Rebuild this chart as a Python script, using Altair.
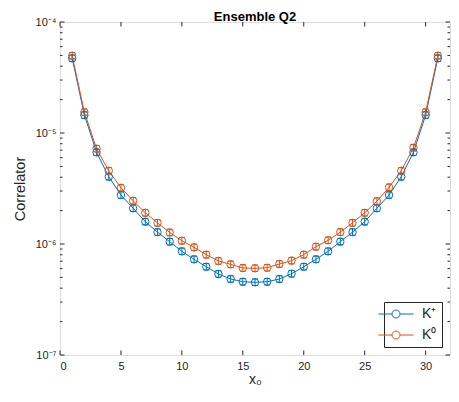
import altair as alt
import pandas as pd

# ---- data ----
x0 = list(range(1, 32))
k_plus = [4.71e-5, 1.45e-5, 6.70e-6, 4.04e-6, 2.76e-6, 2.10e-6, 1.59e-6, 1.28e-6,
          1.05e-6, 8.59e-7, 7.28e-7, 6.24e-7, 5.37e-7, 4.84e-7, 4.57e-7, 4.52e-7,
          4.57e-7, 4.84e-7, 5.40e-7, 6.24e-7, 7.28e-7, 8.59e-7, 1.05e-6, 1.28e-6,
          1.59e-6, 2.10e-6, 2.76e-6, 4.04e-6, 6.70e-6, 1.45e-5, 4.71e-5]
k_zero = [4.97e-5, 1.54e-5, 7.22e-6, 4.57e-6, 3.21e-6, 2.45e-6, 1.91e-6, 1.55e-6,
          1.27e-6, 1.07e-6, 9.33e-7, 8.01e-7, 7.03e-7, 6.56e-7, 6.08e-7, 6.04e-7,
          6.11e-7, 6.61e-7, 7.08e-7, 8.01e-7, 9.46e-7, 1.08e-6, 1.28e-6, 1.55e-6,
          1.91e-6, 2.43e-6, 3.24e-6, 4.57e-6, 7.37e-6, 1.54e-5, 4.97e-5]
series_names = ["K\u207a", "K\u2070"]
series_colors = ["#0072BD", "#D95319"]
rel_err = 0.07

x_ticks = [0, 5, 10, 15, 20, 25, 30]
y_major = [1e-7, 1e-6, 1e-5, 1e-4]
y_labels = ["10\u207b\u2077", "10\u207b\u2076", "10\u207b\u2075", "10\u207b\u2074"]
y_minor = [m * 10.0 ** e for e in (-7, -6, -5) for m in range(2, 10)]

rows = []
for name, vals in zip(series_names, [k_plus, k_zero]):
    for x, v in zip(x0, vals):
        rows.append(dict(x=x, v=v, lo=v / (1 + rel_err), hi=v * (1 + rel_err), series=name))
df = pd.DataFrame(rows)

W, H = 390, 333
FONT = "Liberation Sans"
AX = "#262626"

xs = alt.Scale(domain=[0, 32], nice=False, zero=False)
ys = alt.Scale(type="log", domain=[1e-7, 1e-4], nice=False)

label_expr = " : ".join(
    f"datum.value < {v * 1.5:.3g} ? '{l}'" for v, l in zip(y_major, y_labels)) + " : ''"

x_axis = alt.Axis(values=x_ticks, title="x\u2080", tickSize=0, domain=False, grid=False,
                  labelFont=FONT, labelFontSize=11, labelColor=AX, labelPadding=5,
                  titleFont=FONT, titleFontSize=14, titleFontWeight="normal", titleColor=AX,
                  titleBaseline="top", titleY=17.5, format="d")
y_axis = alt.Axis(values=y_major, labelExpr=label_expr, tickSize=0, domain=False, grid=False,
                  labelFont=FONT, labelFontSize=11, labelColor=AX, labelPadding=4,
                  title="Correlator", titleFont=FONT, titleFontSize=14.5,
                  titleFontWeight="normal", titleColor=AX, titleX=-40,
                  titleBaseline="middle")

X = alt.X("x:Q", scale=xs, axis=x_axis)
Y = alt.Y("v:Q", scale=ys, axis=y_axis)

legend_symbol = "M-4.4,0L-1,0M1,0L4.4,0M1,0A1,1,0,1,1,-1,0A1,1,0,1,1,1,0"
color = alt.Color("series:N",
                  scale=alt.Scale(domain=series_names, range=series_colors),
                  legend=alt.Legend(title=None, orient="bottom-right", offset=8,
                                    symbolType=legend_symbol, symbolSize=64,
                                    symbolStrokeWidth=1, symbolFillColor="transparent",
                                    labelFont=FONT, labelFontSize=14, labelColor=AX,
                                    labelOffset=19, rowPadding=7, padding=5,
                                    strokeColor=AX, fillColor="white"))

base = alt.Chart(df)
lines = base.mark_line(strokeWidth=1).encode(x=X, y=Y, color=color)
errs = base.mark_rule(strokeWidth=1).encode(
    x=X, y=alt.Y("lo:Q", scale=ys, axis=y_axis), y2="hi:Q", color=color)
cap_lo = base.mark_point(shape="M-1,0L1,0", size=36, strokeWidth=1, opacity=1).encode(
    x=X, y=alt.Y("lo:Q", scale=ys, axis=y_axis), color=color)
cap_hi = base.mark_point(shape="M-1,0L1,0", size=36, strokeWidth=1, opacity=1).encode(
    x=X, y=alt.Y("hi:Q", scale=ys, axis=y_axis), color=color)
pts = base.mark_point(size=55, strokeWidth=1, filled=False, opacity=1).encode(
    x=X, y=Y, color=color)

# inward tick marks (MATLAB style)
xt = pd.DataFrame({"x": x_ticks})
ytm = pd.DataFrame({"v": y_major})
ytn = pd.DataFrame({"v": y_minor})
tick_layers = [
    alt.Chart(xt).mark_rule(color=AX, strokeWidth=1).encode(x=X, y=alt.value(H), y2=alt.value(H - 4.5)),
    alt.Chart(xt).mark_rule(color=AX, strokeWidth=1).encode(x=X, y=alt.value(0), y2=alt.value(4.5)),
    alt.Chart(ytm).mark_rule(color=AX, strokeWidth=1).encode(y=Y, x=alt.value(0), x2=alt.value(4.5)),
    alt.Chart(ytm).mark_rule(color=AX, strokeWidth=1).encode(y=Y, x=alt.value(W), x2=alt.value(W - 4.5)),
    alt.Chart(ytn).mark_rule(color=AX, strokeWidth=1).encode(y=Y, x=alt.value(0), x2=alt.value(2.5)),
    alt.Chart(ytn).mark_rule(color=AX, strokeWidth=1).encode(y=Y, x=alt.value(W), x2=alt.value(W - 2.5)),
]

chart = alt.layer(lines, errs, cap_lo, cap_hi, pts, *tick_layers).properties(
    width=W, height=H,
    title=alt.TitleParams("Ensemble Q2", font=FONT, fontSize=13, fontWeight="bold",
                          color="black", offset=4, anchor="middle", frame="group", dy=11.5),
    padding={"left": 52, "top": 14, "right": 1, "bottom": 31},
    autosize=alt.AutoSizeParams(type="none"),
).configure_view(stroke=AX, strokeWidth=1).configure(background="white")

chart.save("out.html", embed_options={"renderer": "svg", "actions": False})
